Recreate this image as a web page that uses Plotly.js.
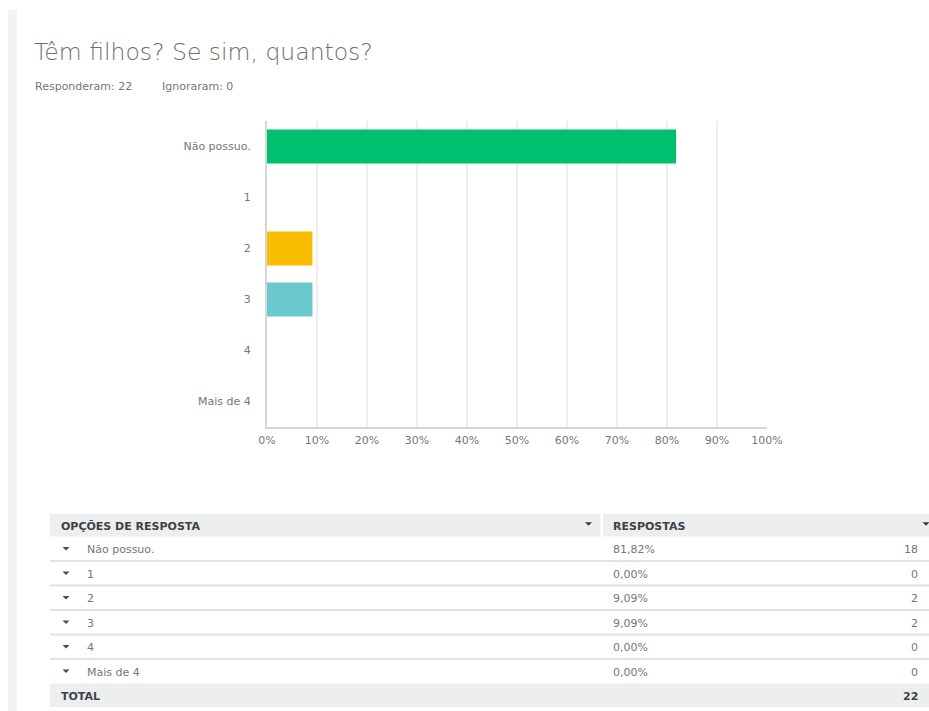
<!DOCTYPE html>
<html>
<head>
<meta charset="utf-8">
<script src="https://cdn.plot.ly/plotly-3.0.1.min.js"></script>
<style>
html,body{margin:0;padding:0;background:#fff;}
#chart{width:929px;height:711px;}
</style>
</head>
<body>
<div id="chart"></div>
<script>
// ---- data ----
const titleText = "Têm filhos? Se sim, quantos?";
const answered = 22;
const skipped = 0;
const categories = ["Não possuo.", "1", "2", "3", "4", "Mais de 4"];
const percentages = [81.82, 0, 9.09, 9.09, 0, 0];
const counts = [18, 0, 2, 2, 0, 0];
const barColors = ["#00bf6f", "#507cb6", "#f9be00", "#6bc8cd", "#ff8b4f", "#7f7fff"];
const xTickVals = [0, 10, 20, 30, 40, 50, 60, 70, 80, 90, 100];
const xTickText = ["0%", "10%", "20%", "30%", "40%", "50%", "60%", "70%", "80%", "90%", "100%"];
const headerLabels = ["OPÇÕES DE RESPOSTA", "RESPOSTAS"];
const totalLabel = "TOTAL";

// ---- layout helpers (pixel -> paper) ----
const W = 929, H = 711;
const px = x => x / W;
const py = y => 1 - y / H;
const FONT = "DejaVu Sans, Open Sans, sans-serif";
const TXT = "#747678";
const HEAD = "#3b4248";

const shapes = [];
const annotations = [];

function rect(x0, y0, x1, y1, fill) {
  shapes.push({type: "rect", xref: "paper", yref: "paper", x0: px(x0), x1: px(x1), y0: py(y1), y1: py(y0),
    fillcolor: fill, line: {width: 0}, layer: "below"});
}
function hline(x0, x1, y, color, w) {
  shapes.push({type: "line", xref: "paper", yref: "paper", x0: px(x0), x1: px(x1), y0: py(y), y1: py(y),
    line: {color: color, width: w}});
}
function tri(cx, cy, w, h, color) {
  const p = `M ${px(cx - w / 2)} ${py(cy - h / 2)} L ${px(cx + w / 2)} ${py(cy - h / 2)} L ${px(cx)} ${py(cy + h / 2)} Z`;
  shapes.push({type: "path", xref: "paper", yref: "paper", path: p, fillcolor: color, line: {width: 0}});
}
function text(x, y, t, opts) {
  opts = opts || {};
  annotations.push({xref: "paper", yref: "paper", x: px(x), y: py(y), text: t, showarrow: false,
    xanchor: opts.anchor || "left", yanchor: "middle",
    font: {family: opts.family || FONT, size: opts.size || 11, color: opts.color || TXT, weight: opts.weight || 400}});
}

// left strip
rect(8, 10, 17, 711, "#f2f2f2");

// title & subtitle
text(32, 52, titleText, {size: 23.5, color: "#6b7071", weight: 200});
text(33, 86, "Responderam: " + answered, {size: 11, color: TXT});
text(160, 86, "Ignoraram: " + skipped, {size: 11, color: TXT});

// table
const headTop = 514, headBot = 536.5;
rect(50, headTop, 600.5, headBot, "#edeeee");
rect(603, headTop, 929, headBot, "#edeeee");
text(59, 526, headerLabels[0], {size: 11, color: HEAD, weight: 600});
text(611, 526, headerLabels[1], {size: 11, color: HEAD, weight: 600});
tri(588.5, 524, 7, 3.5, "#333e48");
tri(926, 524, 7, 3.5, "#333e48");

const rowH = 24.5;
const fmt = v => v.toFixed(2).replace(".", ",") + "%";
categories.forEach((c, i) => {
  const top = headBot + i * rowH;
  const cy = top + rowH / 2;
  if (i > 0) hline(50, 929, top, "#e2e2e2", 2);
  tri(66, cy, 7, 3.5, "#4a4a4a");
  text(85, cy + 1, c);
  text(611, cy + 1, fmt(percentages[i]));
  text(920, cy + 1, String(counts[i]), {anchor: "right"});
});
const totTop = headBot + categories.length * rowH;
rect(50, totTop, 929, totTop + 23.5, "#edeeee");
text(59, totTop + 12.5, totalLabel, {size: 11, color: HEAD, weight: 600});
text(920, totTop + 12.5, String(counts.reduce((a, b) => a + b, 0)), {anchor: "right", color: HEAD, weight: 600});

const trace = {
  type: "bar",
  orientation: "h",
  y: categories,
  x: percentages,
  marker: {color: barColors, line: {width: 0}},
  width: 0.67,
  hoverinfo: "skip"
};

const layout = {
  width: W, height: H,
  margin: {l: 0, r: 0, t: 0, b: 0},
  paper_bgcolor: "#ffffff",
  plot_bgcolor: "#ffffff",
  showlegend: false,
  font: {family: FONT, size: 11, color: TXT},
  xaxis: {
    domain: [px(267), px(767)],
    range: [0, 100],
    tickvals: xTickVals,
    ticktext: xTickText,
    showgrid: true, gridcolor: "#eeeeee", gridwidth: 2,
    zeroline: false,
    showline: true, linecolor: "#d6d6d6", linewidth: 2,
    ticks: "", ticklabelstandoff: 2,
    tickfont: {family: FONT, size: 11, color: TXT},
    fixedrange: true
  },
  yaxis: {
    domain: [py(427), py(121)],
    type: "category",
    categoryorder: "array",
    categoryarray: categories,
    range: [5.5, -0.5],
    showgrid: false, zeroline: false,
    showline: true, linecolor: "#d6d6d6", linewidth: 2,
    ticks: "", ticklabelstandoff: 12,
    tickfont: {family: FONT, size: 11, color: TXT},
    fixedrange: true
  },
  shapes: shapes,
  annotations: annotations
};

Plotly.newPlot("chart", [trace], layout, {displayModeBar: false, staticPlot: true});
</script>
</body>
</html>
